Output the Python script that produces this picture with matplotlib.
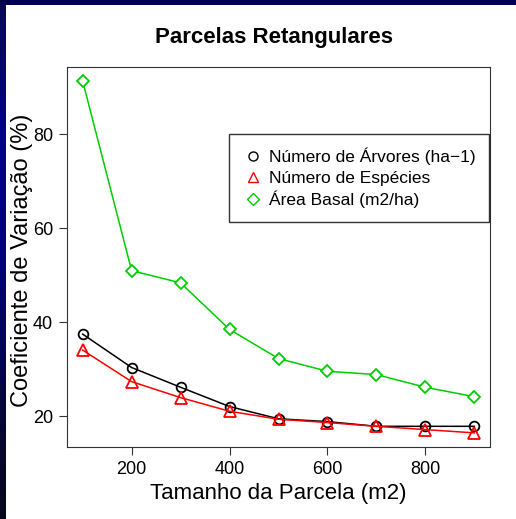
import numpy as np
import matplotlib.pyplot as plt
from matplotlib.lines import Line2D

plt.rcParams["font.family"] = ["Liberation Sans", "DejaVu Sans"]

# Data
tamanho = [100, 200, 300, 400, 500, 600, 700, 800, 900]
arvores = [37.5, 30.4, 26.2, 22.1, 19.5, 18.9, 17.9, 17.9, 17.9]
especies = [34.1, 27.4, 24.0, 21.1, 19.4, 18.7, 17.9, 17.2, 16.5]
area_basal = [91.3, 51.0, 48.4, 38.5, 32.3, 29.6, 28.9, 26.2, 24.2]
labels = ["Número de Árvores (ha−1)", "Número de Espécies", "Área Basal (m2/ha)"]

W, H = 516, 519
fig = plt.figure(figsize=(W / 100, H / 100), dpi=100)
fig.patch.set_facecolor("white")

# Dark slide border (top strip and left gradient strip)
bg = fig.add_axes([0, 0, 1, 1], zorder=-10)
bg.axis("off")
grad = np.array([[0.04, 0.04, 0.30], [0.0, 0.0, 0.55], [0.0, 0.0, 0.50],
                 [0.02, 0.02, 0.25], [0.03, 0.03, 0.10]])
ys = np.linspace(0, 1, H)
cols = np.stack([np.interp(ys, np.linspace(0, 1, len(grad)), grad[:, k]) for k in range(3)], axis=1)
bg.imshow(cols[:, None, :], extent=[0, 6, H, 0], aspect="auto")
bg.add_patch(plt.Rectangle((0, 0), W, 5, color="#03034a", lw=0))
bg.set_xlim(0, W)
bg.set_ylim(H, 0)

ax = fig.add_axes([67 / W, 1 - 447 / H, (490 - 67) / W, (447 - 67) / H])
ax.plot(tamanho, area_basal, color="#00cd00", lw=1.1, marker="D", ms=6.5,
        mfc="white", mec="#00cd00", mew=1.3, label=labels[2], zorder=2)
ax.plot(tamanho, arvores, color="black", lw=1.1, marker="o", ms=7,
        mfc="none", mec="black", mew=1.3, label=labels[0], zorder=3)
ax.plot(tamanho, especies, color="red", lw=1.1, marker="^", ms=8,
        mfc="none", mec="red", mew=1.3, label=labels[1], zorder=3)

ax.set_xlim(68, 932)
ax.set_ylim(13.5, 94.3)
ax.set_xticks([200, 400, 600, 800])
ax.set_yticks([20, 40, 60, 80])
ax.tick_params(labelsize=13, length=6, color="#333333", pad=4)
for s in ax.spines.values():
    s.set_color("#333333")

ax.set_xlabel("Tamanho da Parcela (m2)", fontsize=16, labelpad=4)
ax.set_ylabel("Coeficiente de Variação (%)", fontsize=17, labelpad=0)
ax.yaxis.label.set_y(0.49)
fig.text(274 / W, 1 - 38 / H, "Parcelas Retangulares", fontsize=16,
         fontweight="bold", ha="center", va="center")

handles = [
    Line2D([], [], ls="none", marker="o", ms=6.5, mfc="none", mec="black", mew=1),
    Line2D([], [], ls="none", marker="^", ms=7.5, mfc="none", mec="red", mew=1),
    Line2D([], [], ls="none", marker="D", ms=6, mfc="none", mec="#00cd00", mew=1),
]
leg = ax.legend(handles, labels, loc="upper left",
                bbox_to_anchor=((229 - 67) / (490 - 67), 1 - (134 - 67) / (447 - 67)),
                fontsize=12.5, frameon=True, fancybox=False, edgecolor="black",
                handletextpad=0.3, handlelength=1.2, borderpad=0.8, labelspacing=0.3,
                borderaxespad=0)
leg.get_frame().set_linewidth(1.0)

fig.savefig("out.png", dpi=100)
